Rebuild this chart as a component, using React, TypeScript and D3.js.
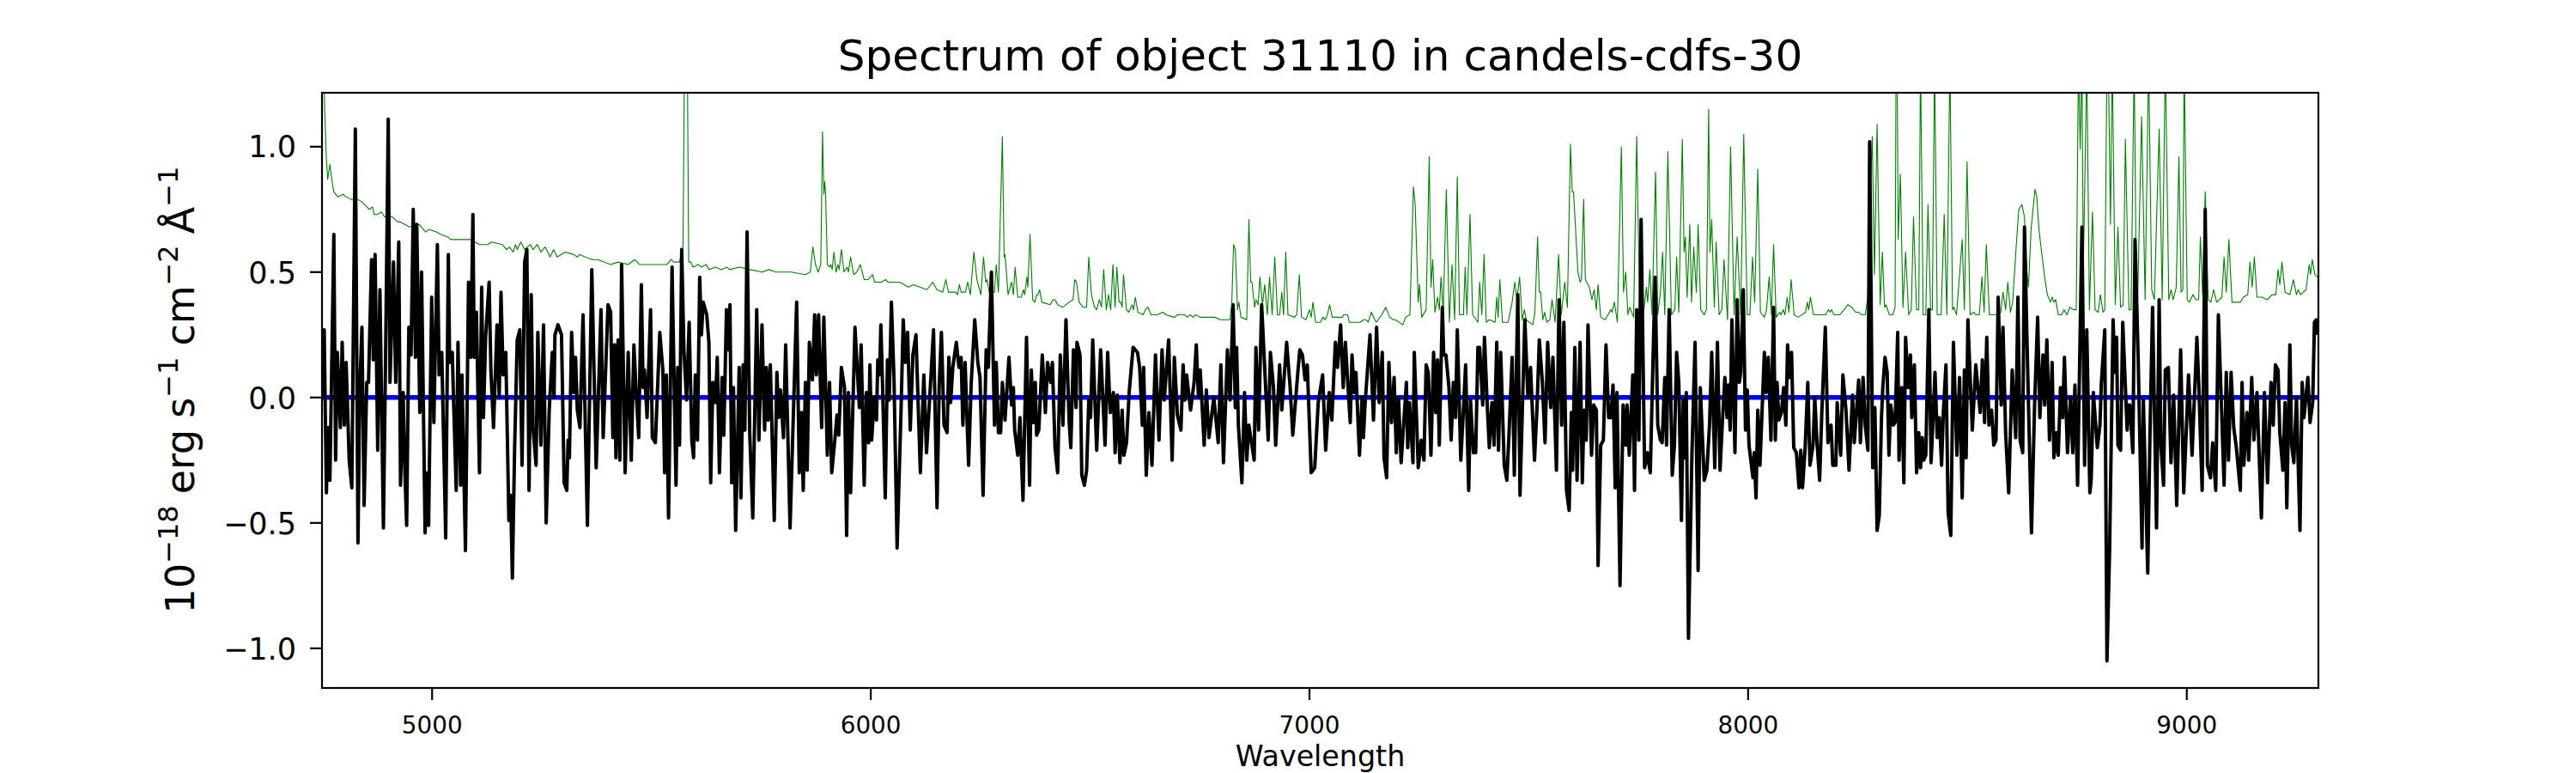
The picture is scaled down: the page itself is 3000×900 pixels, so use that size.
import * as d3 from "d3";

const WIDTH = 3000;
const HEIGHT = 900;
const MARGIN = { top: 108, right: 300, bottom: 99, left: 375 };

const X_DOMAIN = [4749, 9300];
const Y_DOMAIN = [-1.158, 1.215];

const xTickValues = [5000, 6000, 7000, 8000, 9000];
const yTickValues = [-1.0, -0.5, 0.0, 0.5, 1.0];

// flux, [wavelength, value]
const fluxA = [[4751,0.0],[4754,.27],[4759,-.38],[4763,-.12],[4767,-.33],[4776,.65],[4780,-.25],[4784,.18],[4791,-.12],[4795,.22],[4800,-.11],[4804,.14],[4811,-.25],[4817,-.36],[4825,1.07],[4831,-.58],[4835,.02],[4840,.28],[4845,-.43],[4851,.06],[4855,.06],[4862,.55],[4866,.15],[4870,.57],[4876,-.21],[4881,.43],[4889,-.52],[4894,.17],[4900,1.11],[4904,.06],[4912,.54],[4917,.06],[4924,.62],[4928,-.35],[4934,.02],[4938,-.30],[4942,-.51],[4947,.28],[4952,.17],[4957,.75],[4962,.16],[4965,.69],[4972,-.06],[4976,.50],[4984,-.54],[4987,-.30],[4992,-.51],[4999,.40],[5004,-.10],[5012,.61],[5016,.09],[5022,.18],[5031,-.56],[5037,.57],[5040,.14],[5046,.18],[5049,-.02],[5055,-.37],[5059,.22],[5065,-.35],[5068,.09],[5076,-.61],[5083,.46],[5088,.16],[5093,.73],[5096,.16],[5101,.34],[5108,-.30],[5113,.44],[5117,-.08],[5122,.24],[5130,.46],[5134,.11],[5140,-.12],[5148,.29],[5153,.00],[5157,.42],[5162,.09],[5168,.18],[5175,-.49],[5179,-.39],[5183,-.72],[5188,-.21],[5194,.23],[5200,.27],[5205,-.27],[5211,.54],[5216,.59],[5221,-.37],[5226,.41],[5230,-.12],[5237,-.27],[5241,.26],[5248,-.19],[5254,.29],[5260,-.50],[5267,-.05],[5274,.18],[5278,.00],[5280,.25],[5287,.29],[5295,.25],[5301,-.34],[5307,-.37],[5310,-.17],[5313,-.24],[5318,.26],[5323,.02],[5327,.16],[5331,-.05],[5337,-.12],[5344,.33],[5354,-.51],[5364,.51],[5374,-.28],[5385,.35],[5390,-.16],[5401,.37],[5407,.34],[5412,-.16],[5416,.21],[5419,-.24],[5424,.23],[5428,-.25],[5432,.53],[5440,-.30],[5447,.18],[5454,-.25],[5460,.21],[5465,.03],[5471,-.16],[5477,.45],[5481,.04],[5484,.11],[5490,-.08],[5498,.35],[5502,-.16],[5509,-.18]];
const fluxB = [[5519,.26],[5526,.11],[5530,-.30],[5534,.09],[5539,-.48],[5547,.52],[5556,-.35],[5560,.12],[5564,-.19],[5569,.59],[5574,.19],[5580,-.01],[5586,.30],[5592,-.17],[5596,-.24],[5600,.09],[5605,-.17],[5610,.48],[5614,.25],[5618,.38],[5626,.33],[5631,.22],[5635,-.34],[5640,.06],[5646,-.02],[5650,.16],[5655,-.30],[5661,.08],[5665,-.15],[5671,.35],[5675,.19],[5679,.37],[5683,-.34],[5687,.04],[5692,-.53],[5700,.12],[5704,-.40],[5709,.13],[5713,-.13],[5718,.66],[5724,-.14],[5731,-.48],[5740,.35],[5745,-.17],[5752,.29],[5758,-.13],[5762,.12],[5766,-.09],[5771,.13],[5780,-.49],[5786,.10],[5790,-.08],[5794,.03],[5801,-.16],[5806,.21],[5816,-.52],[5831,.38],[5837,-.30],[5842,-.06],[5846,-.37],[5851,.06],[5855,-.29],[5860,.22],[5867,.07],[5872,.33],[5876,.09],[5881,.33],[5888,-.12],[5893,.32],[5901,-.23],[5906,.06],[5911,-.30],[5918,-.17],[5923,-.07],[5927,-.15],[5933,.12],[5940,.04],[5945,-.55],[5949,.02],[5954,-.38],[5964,.28],[5974,-.04],[5978,.21],[5985,-.35],[5990,.02],[5995,-.18],[5998,.13],[6002,-.17],[6008,.00],[6013,-.09],[6016,.15],[6020,.09],[6023,.29],[6027,.04],[6033,-.40],[6038,.15],[6042,-.01],[6047,.38],[6053,.07],[6060,-.60],[6069,-.05],[6074,.31],[6079,.14],[6084,.26],[6090,-.13],[6096,.17],[6103,.25],[6113,-.30],[6121,.09],[6127,-.22],[6137,.08],[6143,.27],[6151,-.44],[6156,.05],[6161,.26],[6167,-.11],[6174,-.14],[6178,.16],[6182,-.02],[6187,.12],[6195,.22],[6201,.12],[6206,.16],[6210,-.11],[6215,.14],[6223,-.27],[6229,.06],[6237,.31],[6244,.14],[6249,.08],[6256,-.39],[6263,.19],[6268,.12],[6275,.50]];
const fluxC = [[6282,-.11],[6286,.14],[6291,-.14],[6296,-.14],[6300,.06],[6306,-.09],[6315,.16],[6321,-.03],[6325,.04],[6328,-.13],[6335,-.23],[6340,-.08],[6347,-.41],[6355,.24],[6362,-.35],[6366,.11],[6371,-.10],[6375,.06],[6378,-.15],[6383,-.13],[6391,.17],[6398,-.06],[6403,.14],[6410,.06],[6414,.14],[6420,-.20],[6426,-.30],[6432,.17],[6438,-.11],[6445,.31],[6452,-.09],[6456,-.20],[6462,.19],[6468,-.04],[6470,.22],[6477,.17],[6481,-.31],[6487,-.35],[6492,-.29],[6497,-.01],[6501,-.08],[6506,.23],[6515,-.21],[6524,.19],[6534,-.19],[6540,.18],[6546,-.06],[6553,.02],[6557,-.22],[6562,.01],[6568,-.26],[6573,-.05],[6577,-.23],[6583,-.18],[6589,.02],[6598,.20],[6608,.18],[6613,.12],[6619,-.11],[6622,.12],[6628,-.31],[6634,-.06],[6641,-.27],[6649,.17],[6657,-.17],[6664,.19],[6669,-.01],[6679,.23],[6687,-.25],[6692,.16],[6699,-.07],[6707,-.13],[6712,.13],[6716,-.01],[6720,.09],[6729,-.05],[6737,.06],[6742,.21],[6747,.00],[6751,.11],[6760,-.19],[6765,.03],[6771,-.16],[6782,.00],[6792,-.18],[6798,.13],[6804,-.26],[6813,.19],[6819,-.01],[6826,.37],[6831,-.04],[6834,.20],[6838,-.11],[6846,-.34],[6852,.02],[6857,-.25],[6862,-.11],[6867,-.17],[6874,-.25],[6878,.20],[6884,-.13],[6891,.37],[6906,-.17],[6911,.18],[6918,.04],[6923,-.19],[6932,.13],[6937,-.05],[6948,.22],[6956,.04],[6962,-.15],[6973,.09],[6978,.19],[6984,.17],[6990,.07],[6995,.13],[7004,-.30],[7012,-.28],[7020,-.02],[7030,.09],[7037,-.21]];
const fluxD = [[7045,.02],[7051,-.09],[7059,.22],[7064,.12],[7071,.29],[7077,.04],[7082,.22],[7088,.04],[7093,-.10],[7097,.17],[7102,.02],[7106,.10],[7114,-.23],[7120,.00],[7123,-.16],[7127,-.02],[7138,.25],[7146,-.09],[7153,.28],[7159,-.02],[7166,.18],[7170,-.24],[7176,-.32],[7181,.14],[7187,-.10],[7193,.08],[7198,-.22],[7203,.00],[7209,-.26],[7221,.06],[7224,-.20],[7228,-.02],[7236,-.26],[7239,.18],[7248,-.28],[7255,-.17],[7261,-.25],[7266,.13],[7271,.10],[7277,-.23],[7283,.18],[7288,-.06],[7292,.15],[7296,-.19],[7303,.36],[7306,.17],[7311,.17],[7318,.04],[7323,-.17],[7328,.06],[7333,-.08],[7337,.27],[7345,-.25],[7351,-.05],[7356,.13],[7363,-.37],[7367,-.01],[7374,-.22],[7379,-.22],[7384,.20],[7388,.20],[7395,-.03],[7399,.24],[7405,-.02],[7410,-.20],[7416,-.02],[7421,-.19],[7427,.22],[7431,-.21],[7436,.18],[7444,-.27],[7450,-.33],[7455,-.14],[7462,.16],[7467,-.31],[7475,.41],[7480,-.39],[7491,.31],[7498,.00],[7504,.12],[7513,-.25],[7519,-.03],[7524,.23],[7531,.06],[7537,-.18],[7543,.22],[7550,-.04],[7555,.16],[7563,-.29],[7569,.39],[7575,-.11],[7580,.30],[7586,-.37],[7592,-.45],[7597,-.06],[7600,-.29],[7605,.20],[7610,-.33],[7617,.22],[7622,-.34],[7626,-.05],[7631,-.17],[7635,.29],[7643,-.23],[7648,-.03],[7654,-.05],[7658,-.67],[7664,-.19],[7670,-.17],[7676,.21],[7682,-.08],[7687,-.08],[7692,.05],[7697,-.36],[7701,.02],[7708,-.75],[7715,-.03],[7721,-.19],[7724,-.03],[7729,-.23],[7737,.09],[7741,-.37],[7746,.35],[7751,-.17],[7756,.71],[7764,-.28],[7770,-.22],[7777,-.30],[7783,.14],[7788,.48],[7794,-.11],[7800,-.17]];
const fluxE = [[7804,-.18],[7810,.08],[7814,-.19],[7820,.35],[7827,-.31],[7832,-.19],[7837,.18],[7842,.06],[7848,-.49],[7852,-.01],[7855,-.24],[7859,.02],[7864,-.96],[7872,-.22],[7879,.22],[7886,-.69],[7891,.04],[7900,-.33],[7906,-.29],[7912,-.11],[7917,.18],[7924,-.28],[7930,.22],[7936,-.29],[7941,-.11],[7947,.08],[7952,-.08],[7955,.05],[7959,-.13],[7963,.31],[7970,-.22],[7975,.39],[7980,.06],[7983,.10],[7989,.43],[7994,-.13],[7998,.03],[8002,-.19],[8011,-.32],[8014,-.22],[8018,-.40],[8022,-.05],[8027,-.27],[8037,.18],[8041,.02],[8046,.16],[8052,-.17],[8058,.36],[8062,-.17],[8066,.06],[8070,-.09],[8076,-.06],[8081,.04],[8086,-.11],[8090,.21],[8095,.08],[8099,.18],[8104,-.20],[8110,-.22],[8116,-.36],[8120,-.21],[8124,-.36],[8130,-.20],[8136,.06],[8141,-.27],[8148,-.19],[8152,.00],[8157,-.18],[8163,-.33],[8168,-.06],[8176,.28],[8182,-.18],[8189,-.11],[8193,-.27],[8200,-.27],[8203,-.02],[8211,-.23],[8216,.09],[8223,-.05],[8230,-.29],[8238,.01],[8242,-.18],[8252,.07],[8256,-.18],[8262,.08],[8267,-.11],[8273,-.21],[8277,1.02],[8284,-.28],[8289,-.04],[8294,-.53],[8299,-.47],[8304,-.08],[8307,.04],[8312,.16],[8317,.10],[8321,-.23],[8325,-.03],[8331,-.11],[8335,-.10],[8341,.26],[8344,-.25],[8350,.04],[8355,-.34],[8359,.24],[8365,.04],[8370,.17],[8373,-.08],[8379,.13],[8384,-.30],[8389,-.14],[8393,-.28],[8397,-.16],[8400,-.25],[8405,-.23],[8412,.35],[8417,-.26],[8421,-.11],[8426,.10],[8431,-.16],[8436,-.08],[8441,-.27],[8445,-.06],[8451,.13],[8456,-.46],[8462,-.55],[8468,.22],[8476,-.23],[8482,.08],[8488,-.40],[8493,.11],[8497,-.24],[8501,.31],[8511,-.13],[8519,.13],[8529,-.06],[8534,.15],[8539,-.10],[8544,.24],[8549,-.11],[8555,-.05],[8560,-.19]];
const fluxF = [[8565,-.17],[8570,.40],[8577,-.03],[8581,.28],[8587,-.14],[8594,-.38],[8602,.11],[8610,-.16],[8615,.40],[8620,-.17],[8626,-.22],[8630,.68],[8637,.13],[8646,-.54],[8653,-.03],[8660,.32],[8665,-.08],[8672,.17],[8676,-.03],[8681,.23],[8687,-.17],[8693,.14],[8697,-.24],[8703,-.14],[8707,-.23],[8712,.04],[8717,-.08],[8721,.16],[8728,-.22],[8735,.00],[8740,-.22],[8745,.05],[8751,-.35],[8761,.68],[8767,-.27],[8772,.27],[8779,-.38],[8782,-.33],[8787,.02],[8796,-.20],[8802,-.11],[8805,.05],[8813,.27],[8818,-1.05],[8824,-.61],[8832,.31],[8836,.10],[8840,.24],[8843,-.19],[8849,-.21],[8854,.30],[8864,-.13],[8867,-.03],[8870,-.03],[8877,-.22],[8882,.63],[8889,.17],[8898,-.60],[8901,-.01],[8911,-.70],[8916,-.15],[8922,.36],[8931,-.52],[8937,.39],[8941,-.19],[8947,-.35],[8951,.11],[8958,.12],[8964,-.26],[8970,.01],[8977,-.43],[8986,.19],[8993,-.38],[9004,.09],[9012,-.23],[9023,.24],[9027,.07],[9035,-.37],[9042,.75],[9047,-.27],[9054,-.32],[9059,-.18],[9066,-.37],[9072,.33],[9085,-.35],[9090,.10],[9095,-.25],[9101,.10],[9107,-.12],[9113,-.20],[9122,-.37],[9126,.06],[9130,-.27],[9137,-.06],[9141,-.25],[9148,.08],[9153,-.17],[9160,.02],[9170,-.48],[9177,.02],[9184,-.34],[9192,.06],[9197,-.11],[9202,.13],[9208,.11],[9212,-.14],[9219,-.29],[9224,-.02],[9228,-.44],[9235,.21],[9239,-.19],[9244,-.26],[9250,.00],[9258,-.53],[9263,.06],[9267,-.08],[9276,.08],[9281,-.10],[9287,-.02],[9291,.30],[9295,.31],[9298,.25]];

// thin green error spectrum, same layout
const noiseA = [[4751,1.5],[4755,1.15],[4759,.95],[4762,.87],[4767,.93],[4772,.86],[4776,.82],[4785,.80],[4797,.81],[4804,.80],[4815,.79],[4830,.79],[4840,.78],[4857,.75],[4864,.76],[4868,.73],[4876,.73],[4884,.74],[4892,.72],[4909,.72],[4922,.70],[4928,.70],[4948,.68],[4971,.69],[4985,.66],[4993,.67],[5010,.66],[5020,.65],[5036,.64],[5042,.63],[5059,.63],[5068,.63],[5088,.63],[5108,.61],[5127,.61],[5135,.62],[5160,.61],[5170,.59],[5176,.60],[5185,.58],[5190,.61],[5194,.59],[5202,.62],[5211,.59],[5224,.61],[5230,.59],[5240,.61],[5248,.58],[5258,.60],[5269,.56],[5277,.59],[5285,.56],[5303,.58],[5323,.57],[5331,.56],[5336,.57],[5349,.56],[5365,.55],[5378,.55],[5407,.53],[5424,.54],[5447,.53],[5462,.55],[5473,.53],[5492,.53],[5510,.53]];
const noiseB = [[5525,.53],[5535,.53],[5545,.55],[5551,.54],[5564,.54],[5572,.60],[5575,1.3],[5579,2.0],[5582,1.3],[5585,.54],[5590,.54],[5595,.52],[5607,.53],[5613,.52],[5625,.53],[5631,.51],[5646,.52],[5659,.51],[5672,.52],[5678,.51],[5701,.52],[5724,.51],[5753,.50],[5768,.51],[5783,.50],[5792,.50],[5818,.50],[5851,.49],[5862,.50],[5868,.60],[5874,.53],[5880,.50],[5886,.53],[5890,1.06],[5893,.81],[5895,.86],[5897,.81],[5901,.53],[5906,.52],[5909,.53],[5912,.51],[5916,.58],[5921,.50],[5925,.53],[5928,.51],[5933,.59],[5939,.50],[5946,.52],[5949,.50],[5954,.56],[5961,.49],[5968,.50],[5976,.53],[5985,.47],[5994,.47],[6004,.49],[6009,.46],[6024,.46],[6034,.47],[6039,.46],[6066,.46],[6086,.44],[6097,.45],[6128,.43],[6141,.46],[6151,.43],[6164,.42],[6171,.47],[6177,.42],[6193,.42],[6198,.41],[6202,.45],[6206,.42],[6216,.42],[6221,.46],[6227,.41],[6235,.58],[6242,.47],[6251,.41],[6257,.56],[6262,.46],[6265,.47],[6270,.42]];
const noiseC = [[6282,.42],[6286,.53],[6291,.42],[6300,1.04],[6304,.56],[6306,.57],[6313,.41],[6321,.46],[6325,.41],[6329,.52],[6335,.40],[6343,.40],[6348,.43],[6351,.41],[6356,.48],[6358,.44],[6363,.65],[6369,.39],[6374,.38],[6378,.41],[6381,.41],[6385,.43],[6390,.38],[6409,.37],[6415,.39],[6420,.39],[6426,.37],[6438,.36],[6452,.38],[6461,.39],[6465,.47],[6469,.46],[6475,.38],[6484,.36],[6492,.36],[6497,.56],[6503,.41],[6510,.36],[6515,.35],[6521,.39],[6526,.36],[6531,.51],[6537,.35],[6542,.41],[6547,.35],[6552,.53],[6557,.36],[6561,.52],[6566,.38],[6570,.38],[6573,.36],[6576,.49],[6583,.35],[6588,.34],[6596,.37],[6599,.35],[6603,.40],[6609,.34],[6621,.33],[6626,.35],[6632,.36],[6639,.33],[6653,.33],[6666,.34],[6673,.33],[6692,.32],[6699,.33],[6709,.33],[6715,.33],[6722,.32],[6728,.33],[6735,.32],[6741,.33],[6751,.32],[6784,.32],[6797,.31],[6819,.31],[6823,.38],[6827,.61],[6831,.59],[6836,.35],[6839,.38],[6844,.32],[6857,.31],[6862,.71],[6866,.46],[6869,.46],[6875,.36],[6878,.39],[6883,.37],[6887,.48],[6893,.37],[6898,.45],[6904,.33],[6909,.48],[6915,.33],[6921,.56],[6927,.33],[6932,.33],[6937,.42],[6941,.33],[6946,.58],[6951,.33],[6966,.32],[6971,.33],[6977,.49],[6982,.32],[6992,.31],[7000,.35],[7004,.32],[7008,.38],[7014,.30],[7025,.30],[7031,.32],[7036,.31]];
const noiseD = [[7041,.33],[7046,.37],[7052,.32],[7063,.32],[7075,.32],[7078,.33],[7082,.33],[7087,.33],[7091,.30],[7116,.30],[7123,.31],[7129,.31],[7134,.30],[7141,.34],[7152,.30],[7165,.33],[7174,.36],[7183,.32],[7191,.31],[7196,.31],[7213,.29],[7219,.32],[7229,.33],[7237,.84],[7241,.77],[7248,.38],[7251,.45],[7256,.32],[7266,.35],[7273,.96],[7277,.44],[7281,.55],[7286,.34],[7292,.40],[7296,.35],[7300,.48],[7305,.34],[7312,.83],[7319,.30],[7325,.53],[7331,.31],[7337,.88],[7342,.33],[7351,.33],[7355,.52],[7359,.33],[7366,.73],[7372,.33],[7384,.30],[7388,.46],[7393,.33],[7398,.57],[7403,.30],[7410,.31],[7423,.30],[7427,.40],[7430,.32],[7434,.47],[7440,.30],[7453,.30],[7462,.38],[7468,.46],[7473,.39],[7479,.48],[7485,.31],[7490,.35],[7494,.31],[7509,.29],[7514,.34],[7520,.64],[7524,.42],[7527,.42],[7532,.31],[7536,.34],[7541,.30],[7548,.31],[7553,.39],[7560,.30],[7568,.57],[7574,.33],[7582,.46],[7588,.36],[7595,1.01],[7599,.82],[7602,.82],[7612,.50],[7617,.46],[7620,.47],[7625,.79],[7629,.47],[7638,.44],[7644,.39],[7649,.43],[7654,.35],[7658,.45],[7664,.32],[7674,.31],[7687,.35],[7690,.34],[7695,.38],[7702,.30],[7711,1.00],[7716,.42],[7721,.50],[7726,.33],[7730,.36],[7739,.32],[7746,1.04],[7752,.44],[7755,.33],[7762,.34],[7768,.44],[7771,.38],[7776,.51],[7781,.33],[7789,.90],[7794,.33],[7800,.42]];
const noiseE = [[7805,.58],[7810,.33],[7817,.98],[7825,.33],[7833,.35],[7837,.56],[7842,.34],[7850,1.03],[7854,.58],[7857,.64],[7861,.40],[7867,.69],[7871,.38],[7876,.60],[7882,.42],[7886,.69],[7892,.35],[7900,.33],[7905,.35],[7910,1.15],[7913,.58],[7917,.71],[7923,.36],[7927,.62],[7934,.33],[7940,.35],[7945,.55],[7953,.31],[7960,1.00],[7968,.33],[7975,.64],[7983,.33],[7990,1.05],[7998,.33],[8004,.33],[8010,.56],[8015,.38],[8022,.91],[8028,.34],[8037,.32],[8042,.35],[8048,.48],[8053,.33],[8058,.61],[8064,.32],[8072,.34],[8075,.33],[8080,.35],[8084,.33],[8089,.40],[8093,.34],[8098,.47],[8105,.33],[8114,.32],[8131,.34],[8135,.38],[8138,.35],[8142,.40],[8149,.33],[8157,.33],[8164,.33],[8177,.33],[8183,.35],[8187,.34],[8190,.35],[8196,.33],[8209,.33],[8219,.35],[8227,.37],[8236,.36],[8245,.34],[8252,.34],[8258,.33],[8267,.33],[8273,.40],[8278,.80],[8283,1.04],[8288,.49],[8294,1.09],[8301,.37],[8306,.58],[8311,.36],[8314,.37],[8322,.33],[8330,.33],[8335,.36],[8337,1.25],[8339,1.6],[8342,.63],[8347,.89],[8353,.36],[8359,.58],[8366,.33],[8372,.35],[8377,.72],[8384,.35],[8389,.35],[8393,1.35],[8399,.33],[8405,.33],[8410,.77],[8416,.35],[8420,.35],[8425,1.35],[8431,.33],[8440,.33],[8447,.73],[8453,.33],[8460,1.35],[8466,.35],[8469,.36],[8475,.33],[8488,.63],[8493,.35],[8499,.94],[8506,.33],[8515,.34],[8519,.33],[8527,.33],[8533,.48],[8538,.34],[8543,.61],[8550,.33],[8563,.33]];
const noiseF = [[8570,.33],[8576,.34],[8581,.42],[8587,.35],[8592,.46],[8598,.34],[8603,.38],[8611,.60],[8617,.75],[8624,.77],[8630,.72],[8635,.51],[8639,.44],[8645,.67],[8654,.83],[8658,.80],[8663,.67],[8669,.58],[8676,.48],[8682,.41],[8689,.38],[8693,.40],[8697,.38],[8701,.39],[8707,.33],[8715,.33],[8720,.35],[8727,.33],[8733,.36],[8742,.35],[8748,.35],[8753,1.35],[8757,.99],[8761,1.35],[8764,.51],[8767,.80],[8772,1.35],[8778,.35],[8785,.74],[8791,.35],[8798,.34],[8803,.41],[8809,.34],[8813,.35],[8818,1.35],[8821,1.35],[8826,.69],[8830,1.35],[8837,.37],[8843,.68],[8849,.36],[8855,.37],[8860,1.03],[8868,.35],[8873,.35],[8880,1.35],[8885,.42],[8888,.39],[8897,1.12],[8905,.39],[8913,1.35],[8920,.43],[8926,.39],[8937,1.07],[8944,.39],[8951,1.35],[8959,.39],[8964,.43],[8969,.39],[8976,.44],[8982,.96],[8987,.42],[8991,.43],[8994,1.35],[9001,.39],[9006,.38],[9014,.41],[9021,.39],[9027,.39],[9031,.64],[9036,.41],[9042,.82],[9049,.39],[9055,.38],[9061,.43],[9068,.38],[9080,.40],[9085,.56],[9090,.42],[9096,.63],[9103,.38],[9122,.38],[9129,.40],[9139,.41],[9144,.54],[9149,.44],[9154,.56],[9160,.40],[9171,.40],[9184,.39],[9194,.41],[9203,.41],[9208,.51],[9212,.45],[9217,.54],[9224,.42],[9235,.41],[9243,.47],[9250,.41],[9254,.43],[9259,.41],[9272,.43],[9279,.53],[9282,.49],[9286,.55],[9292,.49],[9298,.48]];

const zeroLine = [[4751,0],[9298,0]];

const fluxPoints = [fluxA, fluxB, fluxC, fluxD, fluxE, fluxF].flat();
const noisePoints = [noiseA, noiseB, noiseC, noiseD, noiseE, noiseF].flat();

const FONT = "'DejaVu Sans'";

const App = () => {
    const xScale = d3
        .scaleLinear()
        .domain(X_DOMAIN)
        .range([MARGIN.left, WIDTH - MARGIN.right]);
    const yScale = d3
        .scaleLinear()
        .domain(Y_DOMAIN)
        .range([HEIGHT - MARGIN.bottom, MARGIN.top]);

    const lineBuilder = d3
        .line()
        .x((d) => xScale(d[0]))
        .y((d) => yScale(d[1]));

    const left = MARGIN.left;
    const right = WIDTH - MARGIN.right;
    const top = MARGIN.top;
    const bottom = HEIGHT - MARGIN.bottom;

    return (
        <svg
            width={WIDTH}
            height={HEIGHT}
            style={{ position: "absolute", left: 0, top: 0, background: "#fff" }}
            fontFamily={FONT}
        >
            <defs>
                <clipPath id="plot-area">
                    <rect x={left} y={top} width={right - left} height={bottom - top} />
                </clipPath>
            </defs>

            <g clipPath="url(#plot-area)" fill="none" strokeLinejoin="round">
                <path d={lineBuilder(noisePoints)} stroke="#008000" strokeWidth={1.1} />
                <path d={lineBuilder(zeroLine)} stroke="#0000ff" strokeWidth={5.5} />
                <path d={lineBuilder(fluxPoints)} stroke="#000" strokeWidth={4} />
            </g>

            <rect x={left} y={top} width={right - left} height={bottom - top} fill="none" stroke="#000" strokeWidth={2.2} />

            {xTickValues.map((v) => (
                <g key={v}>
                    <line x1={xScale(v)} x2={xScale(v)} y1={bottom} y2={bottom + 14} stroke="#000" strokeWidth={2.2} />
                    <text x={xScale(v)} y={854} textAnchor="middle" fontSize={27.8}>
                        {v}
                    </text>
                </g>
            ))}

            {yTickValues.map((v) => (
                <g key={v}>
                    <line x1={left - 14} x2={left} y1={yScale(v)} y2={yScale(v)} stroke="#000" strokeWidth={2.2} />
                    <text x={345} y={yScale(v) + 12.7} textAnchor="end" fontSize={35}>
                        {d3.format(".1f")(v).replace("-", "\u2212")}
                    </text>
                </g>
            ))}

            <text x={(left + right) / 2} y={82} textAnchor="middle" fontSize={50}>
                Spectrum of object 31110 in candels-cdfs-30
            </text>
            <text x={(left + right) / 2} y={892} textAnchor="middle" fontSize={33.3}>
                Wavelength
            </text>

            <text transform="translate(226,454) rotate(-90)" textAnchor="middle" fontSize={46}>
                <tspan>10</tspan>
                <tspan fontSize={32} dy={-19}>{"\u221218"}</tspan>
                <tspan dy={19} dx={13}>erg</tspan>
                <tspan dx={13}>s</tspan>
                <tspan fontSize={32} dy={-19}>{"\u22121"}</tspan>
                <tspan dy={19} dx={13}>cm</tspan>
                <tspan fontSize={32} dy={-19}>{"\u22122"}</tspan>
                <tspan dy={19} dx={13}>{"\u00c5"}</tspan>
                <tspan fontSize={32} dy={-19}>{"\u22121"}</tspan>
            </text>
        </svg>
    );
};

export default App;
